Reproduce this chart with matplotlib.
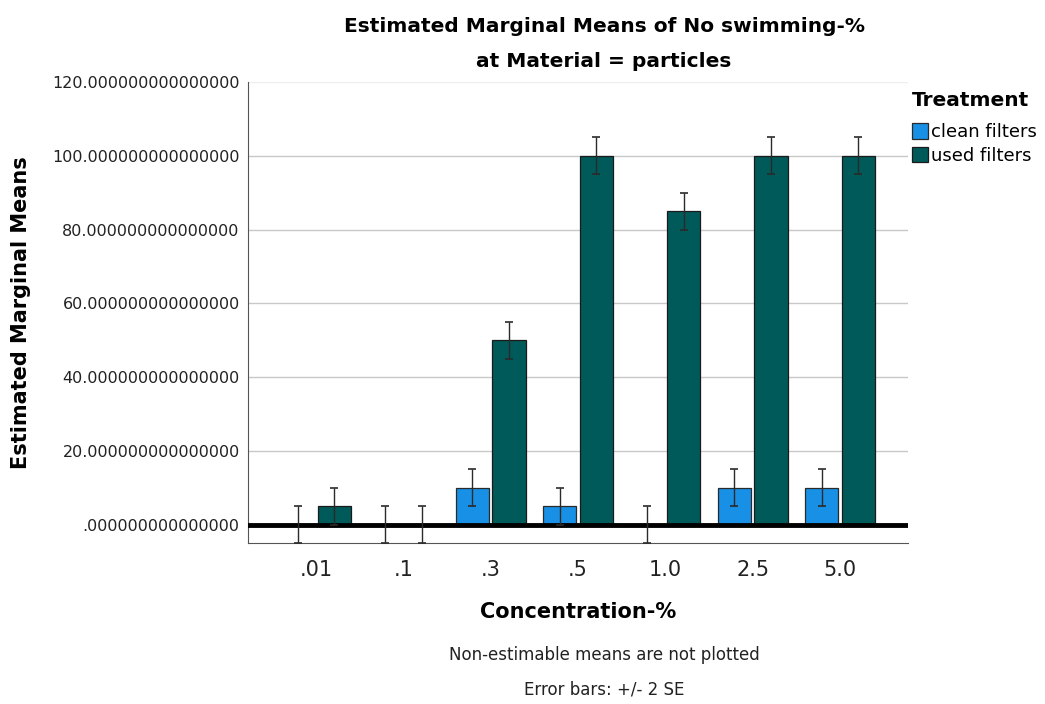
import matplotlib.pyplot as plt
import numpy as np

# Dados
concentracoes = [".01", ".1", ".3", ".5", "1.0", "2.5", "5.0"]
clean_filters = [0, 0, 10, 5, 0, 10, 10]
used_filters = [5, 0, 50, 100, 85, 100, 100]
erro_clean = [5, 5, 5, 5, 5, 5, 5]
erro_used = [5, 5, 5, 5, 5, 5, 5]
y_ticks = [0, 20, 40, 60, 80, 100, 120]

cor_clean = "#1790e6"
cor_used = "#005a5a"

fig = plt.figure(figsize=(10.45, 7.04), dpi=100)
ax = fig.add_axes([0.2373, 0.2287, 0.6316, 0.6548])

x = np.arange(len(concentracoes))
largura = 0.38
desloc = 0.21

ax.bar(x - desloc, clean_filters, largura, color=cor_clean, edgecolor="#2a2a2a",
       linewidth=0.9, label="clean filters", zorder=3)
ax.bar(x + desloc, used_filters, largura, color=cor_used, edgecolor="#1a1a1a",
       linewidth=0.9, label="used filters", zorder=3)

# Barras de erro (+/- 2 SE)
ax.errorbar(x - desloc, clean_filters, yerr=erro_clean, fmt="none", ecolor="#2a2a2a",
            elinewidth=1, capsize=3, capthick=1.2, zorder=5)
ax.errorbar(x + desloc, used_filters, yerr=erro_used, fmt="none", ecolor="#2a2a2a",
            elinewidth=1, capsize=3, capthick=1.2, zorder=5)

# Linha de referência em zero
ax.axhline(0, color="black", linewidth=3.5, zorder=4)

ax.set_xlim(-0.78, len(concentracoes) - 1 + 0.78)
ax.set_ylim(-5, 120)
ax.set_yticks(y_ticks)
rotulos_y = [f"{v:.15f}" for v in y_ticks]
rotulos_y[0] = rotulos_y[0][1:]
ax.set_yticklabels(rotulos_y, fontsize=11.5, color="#222222")
ax.set_xticks(x)
ax.set_xticklabels(concentracoes, fontsize=15, color="#222222")
ax.tick_params(axis="x", length=0, pad=12)
ax.tick_params(axis="y", length=0, pad=6)

ax.grid(axis="y", color="#c8c8c8", linewidth=1, zorder=0)
ax.get_ygridlines()[-1].set_color("#eeeeee")
ax.set_axisbelow(True)
for lado in ["top", "right"]:
    ax.spines[lado].set_visible(False)
ax.spines["left"].set_color("#555555")
ax.spines["bottom"].set_color("#555555")

ax.set_xlabel("Concentration-%", fontsize=15, fontweight="bold", labelpad=16)
ax.set_ylabel("Estimated Marginal Means", fontsize=15, fontweight="bold")
ax.yaxis.set_label_coords(-0.328, 0.5)

fig.text(0.578, 0.962, "Estimated Marginal Means of No swimming-%", ha="center",
         va="center", fontsize=14.5, fontweight="bold")
fig.text(0.578, 0.912, "at Material = particles", ha="center", va="center",
         fontsize=14.5, fontweight="bold")

leg = ax.legend(loc="upper left", bbox_to_anchor=(0.99, 1.005), frameon=False,
                title="Treatment", fontsize=13, handlelength=0.85, handleheight=0.95,
                handletextpad=0.2, labelspacing=0.3, borderaxespad=0.2)
leg.get_title().set_fontweight("bold")
leg.get_title().set_fontsize(14.5)
leg._legend_box.align = "left"
leg._legend_box.sep = 10

fig.text(0.578, 0.07, "Non-estimable means are not plotted", ha="center",
         va="center", fontsize=12, color="#222222")
fig.text(0.578, 0.02, "Error bars: +/- 2 SE", ha="center", va="center",
         fontsize=12, color="#222222")

plt.savefig("out.png", dpi=100)
